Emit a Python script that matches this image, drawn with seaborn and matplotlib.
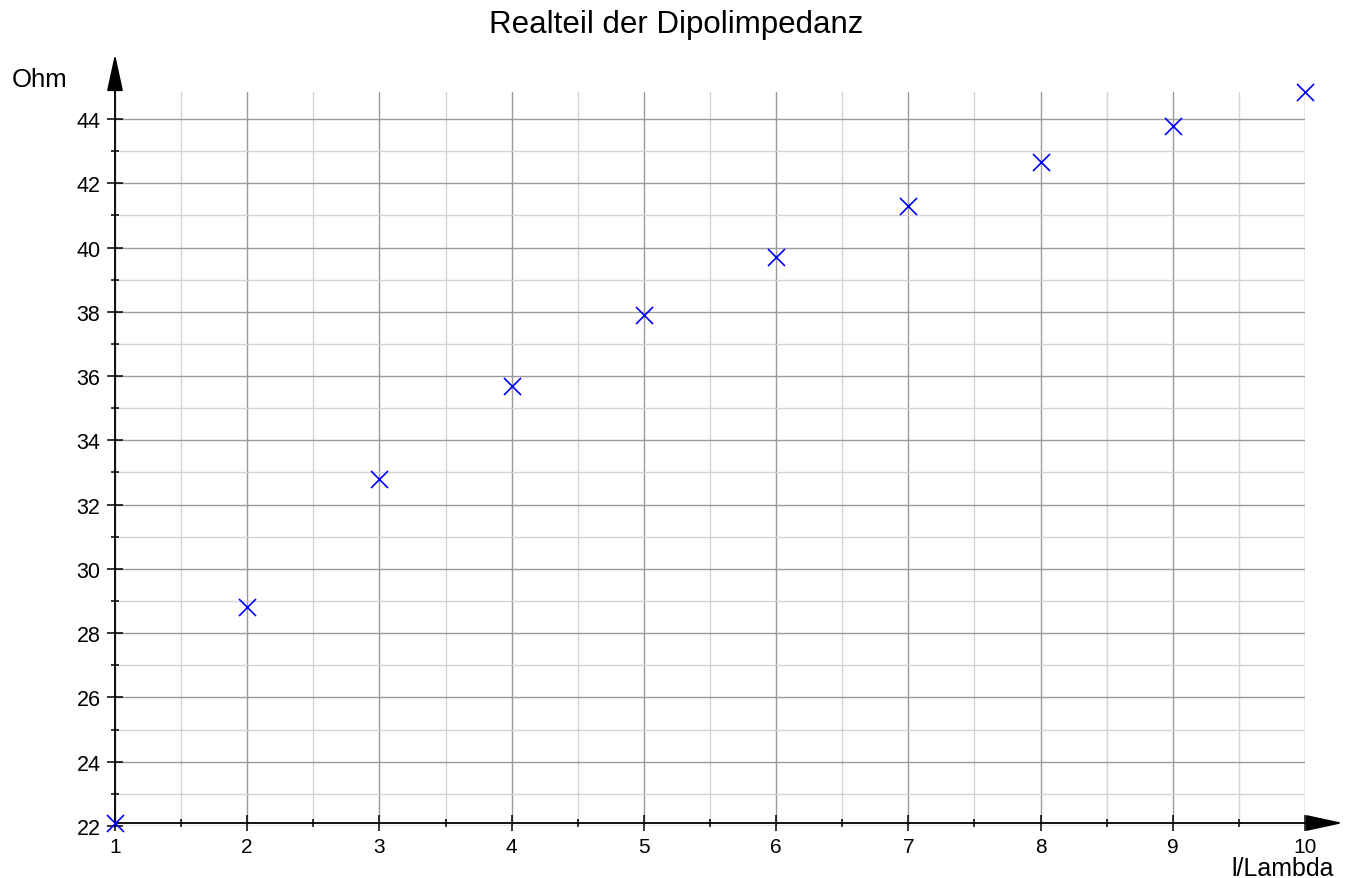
import numpy as np
import matplotlib
matplotlib.use("Agg")
import matplotlib.pyplot as plt
import seaborn as sns
from matplotlib.ticker import MultipleLocator

# Realteil der Dipolimpedanz ueber l/Lambda

l_lambda = [1, 2, 3, 4, 5, 6, 7, 8, 9, 10]
ohm = [22.08, 28.80, 32.81, 35.70, 37.90, 39.72, 41.29, 42.65, 43.78, 44.84]

sns.set_theme(style="white")
plt.rcParams['font.family'] = ['Liberation Sans', 'DejaVu Sans']
plt.rcParams['text.color'] = 'black'
plt.rcParams['xtick.color'] = 'black'
plt.rcParams['ytick.color'] = 'black'

W, H = 1351, 879
fig = plt.figure(figsize=(W / 100, H / 100), dpi=100)
left, right = 115 / W, 1305 / W
bottom, top = (H - 827) / H, (H - 93) / H
ax = fig.add_axes([left, bottom, right - left, top - bottom])

sns.scatterplot(x=l_lambda, y=ohm, marker='x', color='blue', s=150,
                linewidth=1.2, ax=ax, zorder=5, clip_on=False)

ax.set_xlim(1, 10)
ax.set_ylim(22, max(ohm))

# grid
ax.xaxis.set_major_locator(MultipleLocator(1))
ax.xaxis.set_minor_locator(MultipleLocator(0.5))
ax.yaxis.set_major_locator(MultipleLocator(2))
ax.yaxis.set_minor_locator(MultipleLocator(1))
ax.grid(which='major', color='#9a9a9a', lw=1.0)
ax.grid(which='minor', color='#d4d4d4', lw=1.0)
ax.set_axisbelow(True)

# axes cross at first data point
for s in ['top', 'right']:
    ax.spines[s].set_visible(False)
ax.spines['bottom'].set_position(('data', ohm[0]))
ax.spines['left'].set_position(('data', 1))
for s in ['bottom', 'left']:
    ax.spines[s].set_color('black')
    ax.spines[s].set_linewidth(1.3)

ax.tick_params(which='major', direction='inout', length=11, width=1.1,
               bottom=True, left=True)
ax.tick_params(which='minor', direction='inout', length=6, width=1.1,
               bottom=True, left=True)
ax.tick_params(axis='x', pad=4, labelsize=15)
ax.tick_params(axis='y', pad=5, labelsize=15.5)
ax.set_xlabel('')
ax.set_ylabel('')

# arrows
y_axis_px = H - 824
arrow = dict(arrowstyle='-|>,head_length=2.3,head_width=0.5', color='black', lw=1.3,
             shrinkA=0, shrinkB=0, mutation_scale=10)
ax.annotate('', xy=(115, H - 55), xytext=(115, H - 93), xycoords='figure pixels',
            textcoords='figure pixels', arrowprops=arrow, annotation_clip=False)
ax.annotate('', xy=(1343, y_axis_px), xytext=(1305, y_axis_px), xycoords='figure pixels',
            textcoords='figure pixels', arrowprops=arrow, annotation_clip=False)

fig.text(676 / W, (H - 33) / H, 'Realteil der Dipolimpedanz', ha='center', va='baseline',
         fontsize=22.5)
fig.text(12 / W, (H - 87) / H, 'Ohm', ha='left', va='baseline', fontsize=18.5)
fig.text(1334 / W, (H - 876) / H, 'l/Lambda', ha='right', va='baseline', fontsize=18)

fig.savefig('out.png', dpi=100)
